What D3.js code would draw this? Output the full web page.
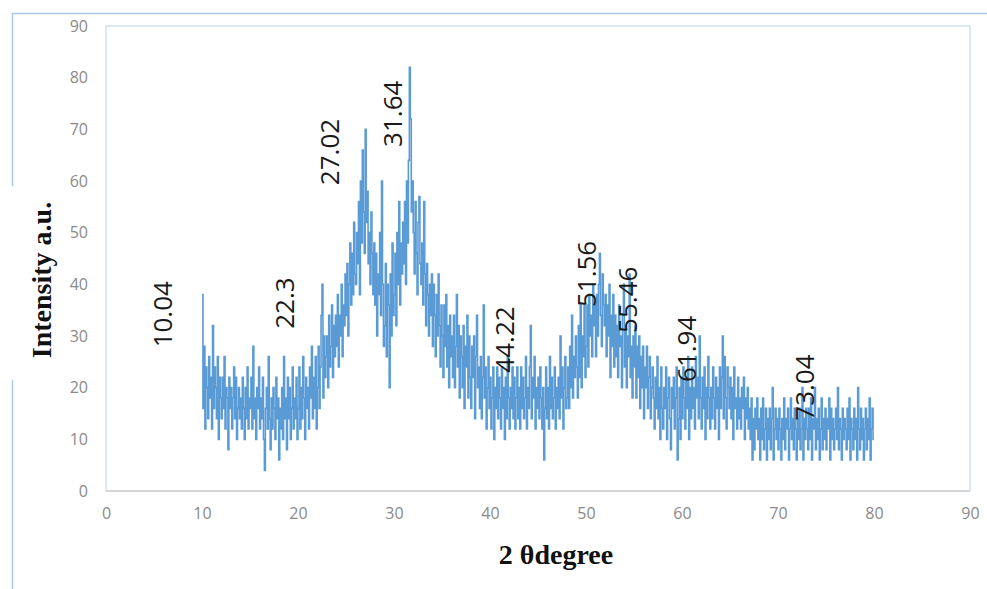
<!DOCTYPE html>
<html>
<head>
<meta charset="utf-8">
<title>XRD pattern</title>
<script src="https://d3js.org/d3.v7.min.js"></script>
<style>
  html, body { margin: 0; padding: 0; background: #fff; }
  svg { display: block; }
  .tick text { font-family: 'Open Sans', sans-serif; font-size: 16px; fill: #8a8a8a; }
  .peak { font-family: 'Open Sans', sans-serif; font-size: 26px; fill: #1a1a1a; }
  .title { font-family: 'Liberation Serif', 'Times New Roman', serif; font-weight: bold; font-size: 28px; fill: #111; }
</style>
</head>
<body>
<svg id="svg" width="987" height="589"></svg>
<script>
  // 2θ scan: starts at 10°, 0.1° steps
  const twoThetaStart = 10;
  const twoThetaStep = 0.1;
  // intensity, one row per degree (10.0 .. 10.9, 11.0 .. 11.9, ...)
  const intensity = [
    38, 16, 28, 12, 24, 20, 14, 26, 18, 22,
    12, 32, 16, 24, 20, 14, 26, 10, 22, 18,
    14, 22, 16, 26, 12, 20, 18, 8, 22, 16,
    20, 12, 18, 24, 14, 22, 10, 16, 20, 14,
    18, 12, 22, 16, 10, 20, 14, 24, 12, 18,
    16, 22, 12, 28, 14, 18, 10, 20, 16, 24,
    12, 18, 14, 22, 10, 4, 16, 20, 12, 26,
    14, 8, 18, 12, 20, 16, 10, 22, 14, 18,
    6, 16, 12, 20, 10, 26, 14, 18, 8, 22,
    14, 20, 10, 16, 24, 12, 18, 14, 22, 10,
    16, 24, 12, 20, 14, 26, 18, 10, 22, 16,
    20, 12, 24, 18, 28, 14, 22, 16, 26, 12,
    20, 28, 16, 24, 34, 40, 18, 30, 22, 26,
    30, 20, 34, 24, 28, 36, 22, 32, 26, 34,
    28, 38, 24, 34, 30, 40, 26, 36, 32, 42,
    34, 44, 30, 40, 48, 36, 46, 38, 52, 42,
    40, 50, 44, 56, 38, 60, 48, 66, 54, 46,
    70, 52, 58, 44, 50, 40, 54, 46, 38, 48,
    36, 46, 30, 42, 38, 50, 34, 60, 40, 28,
    32, 44, 26, 40, 36, 20, 42, 30, 48, 34,
    38, 46, 32, 50, 40, 56, 36, 48, 42, 52,
    44, 56, 40, 60, 48, 64, 82, 72, 54, 60,
    50, 42, 56, 46, 38, 52, 57, 44, 40, 48,
    36, 56, 42, 32, 44, 38, 30, 40, 34, 42,
    28, 40, 34, 26, 38, 30, 42, 32, 24, 36,
    30, 22, 36, 28, 38, 24, 32, 20, 34, 26,
    30, 22, 34, 20, 28, 38, 24, 32, 18, 30,
    26, 20, 32, 16, 28, 24, 34, 18, 30, 22,
    16, 28, 22, 30, 14, 26, 34, 20, 24, 16,
    26, 14, 22, 36, 18, 24, 12, 20, 26, 16,
    22, 12, 18, 24, 10, 20, 16, 24, 14, 22,
    18, 12, 24, 16, 20, 10, 22, 14, 26, 18,
    12, 20, 16, 24, 14, 22, 12, 18, 24, 14,
    20, 12, 24, 16, 22, 14, 18, 26, 12, 20,
    16, 24, 32, 14, 22, 18, 26, 12, 20, 16,
    22, 14, 24, 18, 12, 20, 6, 16, 24, 14,
    20, 12, 26, 16, 22, 14, 18, 24, 12, 20,
    16, 22, 14, 30, 18, 24, 12, 20, 26, 16,
    18, 24, 16, 28, 20, 34, 18, 26, 22, 30,
    24, 18, 32, 22, 36, 20, 30, 26, 36, 22,
    28, 36, 24, 38, 30, 34, 26, 40, 32, 36,
    26, 38, 30, 40, 46, 34, 28, 42, 36, 32,
    38, 26, 36, 30, 40, 22, 34, 28, 38, 24,
    34, 26, 32, 22, 36, 28, 30, 20, 34, 40,
    24, 32, 20, 30, 26, 42, 22, 28, 18, 30,
    24, 32, 18, 28, 22, 30, 16, 26, 20, 28,
    14, 24, 20, 28, 16, 22, 26, 14, 20, 24,
    18, 12, 22, 16, 26, 14, 20, 10, 24, 16,
    12, 20, 16, 24, 10, 18, 22, 14, 8, 20,
    16, 22, 12, 18, 24, 6, 14, 20, 10, 22,
    14, 24, 18, 12, 22, 16, 26, 10, 20, 14,
    24, 16, 20, 12, 26, 18, 22, 14, 30, 18,
    12, 22, 16, 24, 10, 20, 14, 26, 18, 12,
    20, 14, 24, 18, 12, 22, 16, 20, 10, 24,
    16, 22, 30, 14, 26, 18, 12, 24, 20, 16,
    22, 14, 20, 10, 24, 16, 18, 12, 22, 14,
    18, 12, 20, 16, 22, 10, 18, 14, 20, 12,
    16, 10, 18, 6, 14, 8, 16, 12, 18, 10,
    14, 6, 16, 10, 18, 8, 12, 16, 6, 14,
    10, 16, 8, 14, 20, 6, 12, 16, 10, 14,
    8, 16, 12, 6, 14, 10, 18, 8, 14, 12,
    16, 6, 12, 18, 10, 14, 8, 16, 12, 6,
    14, 10, 16, 8, 12, 20, 6, 14, 10, 16,
    12, 8, 16, 10, 18, 6, 14, 12, 20, 8,
    14, 10, 16, 6, 12, 18, 8, 14, 10, 16,
    8, 14, 12, 18, 6, 16, 10, 14, 8, 12,
    16, 10, 20, 8, 14, 12, 6, 16, 10, 14,
    12, 8, 16, 10, 18, 6, 14, 12, 8, 16,
    10, 14, 6, 20, 12, 8, 16, 10, 14, 6,
    12, 16, 8, 14, 10, 18, 6, 12, 16, 10,
    10
  ];

  const xTicks = [0, 10, 20, 30, 40, 50, 60, 70, 80, 90];
  const yTicks = [0, 10, 20, 30, 40, 50, 60, 70, 80, 90];

  // peak annotations, placed where they sit on the chart (data units)
  const peakLabels = ["10.04", "22.3", "27.02", "31.64", "44.22", "51.56", "55.46", "61.94", "73.04"];
  const peakLabelX = [5.9, 18.6, 23.3, 29.9, 41.6, 50.1, 54.4, 60.5, 72.8];
  const peakLabelY = [27.8, 31.4, 59.2, 66.6, 22.9, 35.6, 30.6, 21.1, 13.6];

  const svg = d3.select("#svg");
  const x = d3.scaleLinear().domain([0, 90]).range([106, 970]);
  const y = d3.scaleLinear().domain([0, 90]).range([491, 26]);

  // chart area border (open on the right and bottom, with a break on the left)
  svg.append("path")
    .attr("d", "M12.5,186 V13.5 H987 M12.5,380 V589")
    .attr("fill", "none")
    .attr("stroke", "#a9c8ea")
    .attr("stroke-width", 1.5);

  // plot area frame
  svg.append("rect")
    .attr("x", x(0)).attr("y", y(90))
    .attr("width", x(90) - x(0)).attr("height", y(0) - y(90))
    .attr("fill", "none")
    .attr("stroke", "#c6d9ef")
    .attr("stroke-width", 1.2);

  const pts = intensity.map((v, i) => [twoThetaStart + i * twoThetaStep, v]);
  const line = d3.line()
    .curve(d3.curveStepAfter)
    .x(d => x(d[0]))
    .y(d => y(d[1]));

  svg.append("path")
    .datum(pts)
    .attr("d", line)
    .attr("fill", "none")
    .attr("stroke", "#5b9bd5")
    .attr("stroke-width", 1.6);

  // x axis line
  svg.append("line")
    .attr("x1", x(0)).attr("x2", x(90))
    .attr("y1", y(0)).attr("y2", y(0))
    .attr("stroke", "#d0d0d0")
    .attr("stroke-width", 1.5);

  svg.append("g")
    .attr("transform", `translate(0,${y(0)})`)
    .call(d3.axisBottom(x).tickValues(xTicks).tickSize(0).tickPadding(17))
    .call(g => g.select(".domain").remove());

  svg.append("g")
    .attr("transform", `translate(${x(0)},0)`)
    .call(d3.axisLeft(y).tickValues(yTicks).tickSize(0).tickPadding(18))
    .call(g => g.select(".domain").remove());

  svg.selectAll(".peak")
    .data(peakLabels)
    .join("text")
    .attr("class", "peak")
    .attr("transform", (d, i) => `translate(${x(peakLabelX[i])},${y(peakLabelY[i])}) rotate(-90)`)
    .attr("dy", "0.35em")
    .text(d => d);

  svg.append("text")
    .attr("class", "title")
    .attr("transform", "translate(51,280) rotate(-90)")
    .attr("text-anchor", "middle")
    .text("Intensity a.u.");

  svg.append("text")
    .attr("class", "title")
    .attr("x", 556).attr("y", 564)
    .attr("text-anchor", "middle")
    .text("2 θdegree");
</script>
</body>
</html>
